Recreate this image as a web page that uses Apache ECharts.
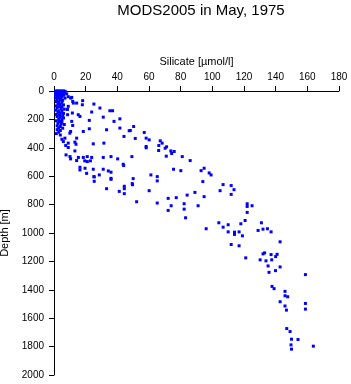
<!DOCTYPE html>
<html>
<head>
<meta charset="utf-8">
<script src="https://cdn.jsdelivr.net/npm/echarts@6/dist/echarts.min.js"></script>
<style>
html, body { margin: 0; padding: 0; background: #fff; }
#chart { width: 351px; height: 384px; }
</style>
</head>
<body>
<div id="chart"></div>
<script>
var xTicks = [0, 20, 40, 60, 80, 100, 120, 140, 160, 180];
var yTicks = [0, 200, 400, 600, 800, 1000, 1200, 1400, 1600, 1800, 2000];

// silicate [umol/l] and depth [m], one pair per point
var silicate = [
    // surface blob and near-surface column
    1, 2, 3, 4, 5, 6, 7, 1, 2.5, 4, 5.5, 1.5, 3, 4.5, 6.5, 1, 2.5, 4, 6, 2, 3.5, 5, 1, 3, 4.5, 7,
    2, 4, 5.5, 1.5, 3, 5, 2.5, 4, 6, 1.5, 3.5, 5, 2, 4.5, 6.5, 1, 3, 5, 2.5, 4, 6, 1.5, 3.5, 5.5,
    2, 4, 6, 3, 5, 1.5, 3.5, 5, 2.5, 4.5, 6.5, 2, 4, 3, 5.5, 2, 4, 3, 1.5, 4, 5, 8, 9, 10.5, 12.2, 9, 8.6, 8.5, 15.3,
    // upper left
    11.2, 11.8, 14.3, 18.1, 17.9, 25.2, 29, 23.8, 35.3, 37, 11.6, 16.4, 31.1, 41.6, 37.9, 22.3, 11.2, 11.8,
    22.3, 18.5, 10.5, 10, 33.2, 47.5, 41.6, 44.2, 14.3, 6.9, 5.9, 13.2, 9, 7.4, 9, 13.9, 24.8, 31.5,
    13.2, 7.6, 10.1, 10.5, 14.3, 15.4, 18.5, 21, 23.8, 31.1, 36, 40.2, 19.4, 21, 23, 43.7, 16.4, 16.4,
    19.6, 24.8, 31.1, 34.3, 36, 20.6, 25.2, 28.6, 36,
    25.4, 25.4, 36, 33.2, 41.2, 44.4, 44.4, 44.4, 52.2,
    // middle
    50.3, 48.2, 57, 51.3, 58.2, 60.1, 67.1, 68.3, 66.2, 71.1, 58.2, 58.2, 66.1, 70.2, 73.8, 75.9, 74.3,
    70.9, 81, 86, 49.2, 44, 75.5, 80.1, 92.9, 94.8, 98, 99.2, 61.2, 65.2, 50, 65.2, 94, 49.4, 49.6,
    60.1, 72.1, 77.2, 84.1, 89, 94.8,
    106.8, 111.9, 104.9, 113.7, 111.9,
    // lower right
    65.2, 74, 82.2, 72.1, 82.2, 91, 83.1, 122, 122, 125.1, 122, 104.1, 110, 118, 120.7, 131, 106.8, 96.1,
    110, 114, 114, 116.9, 119, 128.9, 132, 134.8, 137.1, 111.9, 116.9, 121.1, 130.2, 133.9, 137.5, 132,
    133, 137.1, 140, 140.9, 135.2, 142.8, 142.8, 135.8, 139.9, 158.8, 137.7, 139, 145.9, 145.9, 147.6,
    142.8, 145.9, 146.8, 158.8, 158.8, 147, 149.1, 150, 154.1, 149.7, 150, 163.8
];
var depth = [
    0, 0, 0, 0, 0, 0, 2, 10, 10, 10, 10, 20, 20, 20, 20, 30, 30, 30, 30, 40, 40, 40, 50, 50, 50, 50,
    60, 62, 65, 75, 78, 80, 90, 95, 98, 105, 110, 112, 120, 125, 128, 135, 140, 142, 150, 155, 158, 165, 170, 172,
    180, 185, 190, 198, 202, 210, 215, 220, 228, 232, 236, 245, 250, 260, 262, 272, 278, 290, 300, 310, 340, 20, 40, 50, 85, 108, 167, 130, 167,
    45, 73, 85, 68, 97, 92, 120, 148, 139, 139, 155, 179, 184, 196, 214, 207, 214, 243,
    266, 285, 285, 297, 273, 280, 261, 320, 332, 332, 356, 360, 367, 384, 398, 375, 372, 367,
    422, 450, 462, 478, 490, 468, 468, 462, 468, 468, 462, 478, 492, 497, 492, 516, 537, 556,
    544, 551, 551, 563, 572, 580, 603, 591, 615,
    605, 636, 622, 688, 707, 671, 688, 723, 780,
    250, 278, 292, 334, 332, 344, 351, 367, 384, 393, 391, 400, 419, 403, 422, 426, 440,
    459, 462, 490, 462, 525, 551, 561, 561, 544, 577, 591, 591, 603, 617, 633, 638, 652, 660,
    702, 756, 751, 733, 714, 744,
    659, 666, 702, 695, 728,
    789, 808, 794, 841, 832, 808, 893, 794, 813, 808, 855, 928, 942, 935, 912, 928, 959, 970,
    992, 994, 1010, 992, 1020, 982, 973, 970, 992, 1081, 1090, 1175, 1189, 1196, 1189, 1147,
    1140, 1152, 1166, 1150, 1232, 1062, 1239, 1277, 1265, 1293, 1376, 1392, 1411, 1442, 1449,
    1484, 1514, 1543, 1496, 1536, 1673, 1694, 1748, 1750, 1788, 1818, 1797
];

var points = [];
silicate.forEach(function (s, i) {
    points.push([s, depth[i]]);
});

var font = 'Liberation Sans, Arial, Helvetica, sans-serif';

var myChart = echarts.init(document.getElementById('chart'), null, {renderer: 'canvas'});
myChart.setOption({
    animation: false,
    backgroundColor: '#ffffff',
    title: {
        text: 'MODS2005 in May, 1975',
        left: 196,
        textAlign: 'center',
        top: -2,
        textStyle: {fontFamily: font, fontSize: 15, fontWeight: 'normal', color: '#000'}
    },
    grid: {left: 54, right: 12, top: 91, bottom: 9, containLabel: false, outerBoundsMode: 'none'},
    xAxis: {
        type: 'value',
        position: 'top',
        min: xTicks[0],
        max: xTicks[xTicks.length - 1],
        interval: 20,
        name: 'Silicate [µmol/l]',
        nameLocation: 'middle',
        nameGap: 24,
        nameTextStyle: {fontFamily: font, fontSize: 11, color: '#000'},
        axisLine: {lineStyle: {color: '#000', width: 1}},
        axisTick: {inside: false, length: 5, lineStyle: {color: '#000'}},
        axisLabel: {fontFamily: font, fontSize: 10, color: '#000', margin: 9},
        splitLine: {show: false}
    },
    yAxis: {
        type: 'value',
        inverse: true,
        min: yTicks[0],
        max: yTicks[yTicks.length - 1],
        interval: 200,
        name: 'Depth [m]',
        nameLocation: 'middle',
        nameRotate: 90,
        nameGap: 39,
        nameTextStyle: {fontFamily: font, fontSize: 11, color: '#000'},
        axisLine: {lineStyle: {color: '#000', width: 1}},
        axisTick: {inside: false, length: 5, lineStyle: {color: '#000'}},
        axisLabel: {
            fontFamily: font, fontSize: 10, color: '#000', margin: 10,
            formatter: function (v) { return String(v); }
        },
        splitLine: {show: false}
    },
    series: [{
        type: 'scatter',
        data: points,
        symbol: 'rect',
        symbolSize: 3,
        itemStyle: {color: '#0000ff', opacity: 1}
    }]
});
</script>
</body>
</html>
